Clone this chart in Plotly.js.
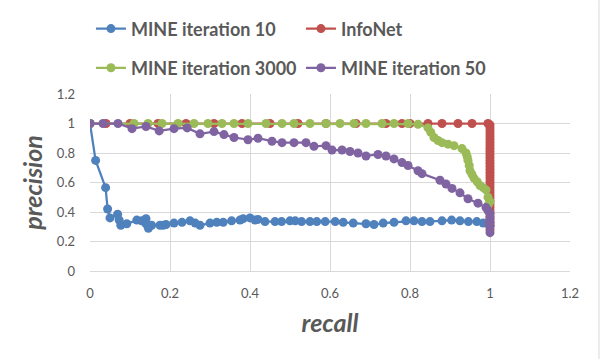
<!DOCTYPE html>
<html>
<head>
<meta charset="utf-8">
<script src="https://cdn.plot.ly/plotly-3.0.1.min.js"></script>
<style>
  body { margin: 0; background: #fff; }
  #chart { width: 600px; height: 359px; }
</style>
</head>
<body>
<div id="chart"></div>
<script>
// series names
const names = ["MINE iteration 10", "InfoNet", "MINE iteration 3000", "MINE iteration 50"];

// MINE iteration 10
const mine10X = [0, 0.014, 0.039, 0.044, 0.05, 0.069, 0.073, 0.077, 0.092, 0.117, 0.129, 0.14, 0.14, 0.146, 0.154,
  0.175, 0.183, 0.19, 0.21, 0.23, 0.25, 0.263, 0.275, 0.3, 0.317, 0.333, 0.354, 0.375, 0.383, 0.4, 0.4125, 0.42,
  0.4375, 0.4625, 0.479, 0.5, 0.513, 0.529, 0.55, 0.567, 0.588, 0.613, 0.633, 0.658, 0.69, 0.71, 0.733, 0.76,
  0.79, 0.81, 0.83, 0.85, 0.88, 0.904, 0.925, 0.946, 0.967, 0.983, 0.995, 1.0];
const mine10Y = [1, 0.75, 0.565, 0.42, 0.36, 0.385, 0.345, 0.31, 0.32, 0.345, 0.34, 0.355, 0.32, 0.29, 0.31,
  0.31, 0.31, 0.315, 0.325, 0.33, 0.34, 0.325, 0.31, 0.325, 0.33, 0.33, 0.34, 0.345, 0.355, 0.36, 0.345, 0.35,
  0.335, 0.335, 0.335, 0.34, 0.34, 0.335, 0.335, 0.335, 0.335, 0.335, 0.33, 0.325, 0.32, 0.315, 0.325, 0.33,
  0.34, 0.34, 0.335, 0.335, 0.34, 0.345, 0.34, 0.335, 0.335, 0.325, 0.32, 0.31];

// InfoNet
const infoX = [0, 0.04, 0.1, 0.17, 0.24, 0.31, 0.38, 0.45, 0.52, 0.59, 0.665, 0.74, 0.78, 0.8, 0.845, 0.88, 0.92, 0.955, 0.995,
  1, 1, 1, 1, 1, 1, 1, 1, 1, 1, 1, 1, 1, 1, 1, 1, 1, 1, 1, 1, 1, 1, 1, 1, 1, 1, 1, 1, 1, 1, 1, 1, 1, 1, 1, 1];
const infoY = [1, 1, 1, 1, 1, 1, 1, 1, 1, 1, 1, 1, 1, 1, 1, 1, 1, 1, 1,
  0.99, 0.97, 0.95, 0.93, 0.91, 0.89, 0.87, 0.85, 0.83, 0.81, 0.79, 0.77, 0.75, 0.73, 0.71, 0.69, 0.67, 0.65,
  0.63, 0.61, 0.59, 0.57, 0.55, 0.53, 0.51, 0.49, 0.47, 0.45, 0.43, 0.41, 0.39, 0.37, 0.35, 0.33, 0.31, 0.28];

// MINE iteration 3000
const mine3000X = [0, 0.11, 0.145, 0.18, 0.22, 0.26, 0.295, 0.33, 0.36, 0.395, 0.44, 0.48, 0.51, 0.55, 0.59, 0.625,
  0.66, 0.69, 0.73, 0.76, 0.795, 0.82, 0.845, 0.852, 0.86, 0.87, 0.88, 0.895, 0.91, 0.93, 0.94, 0.943, 0.945, 0.948,
  0.95, 0.955, 0.96, 0.968, 0.975, 0.983, 0.99, 0.995, 1.0, 0.995];
const mine3000Y = [1, 1, 1, 1, 1, 1, 1, 1, 1, 1, 1, 1, 1, 1, 1, 1,
  1, 1, 1, 1, 1, 0.995, 0.97, 0.94, 0.905, 0.885, 0.87, 0.86, 0.85, 0.83, 0.8, 0.775, 0.75, 0.715,
  0.68, 0.655, 0.63, 0.605, 0.58, 0.565, 0.55, 0.5, 0.47, 0.445];

// MINE iteration 50
const mine50X = [0, 0.0325, 0.07, 0.105, 0.14, 0.173, 0.21, 0.243, 0.275, 0.31, 0.335, 0.36, 0.395, 0.42, 0.455,
  0.48, 0.51, 0.54, 0.56, 0.59, 0.605, 0.63, 0.65, 0.67, 0.69, 0.72, 0.74, 0.76, 0.78, 0.795, 0.82, 0.83, 0.875,
  0.89, 0.905, 0.925, 0.945, 0.97, 0.99, 0.995, 1, 1, 1, 1, 1];
const mine50Y = [1, 1, 1, 0.965, 0.98, 0.95, 0.965, 0.97, 0.93, 0.945, 0.925, 0.905, 0.89, 0.9, 0.88,
  0.87, 0.87, 0.87, 0.845, 0.85, 0.82, 0.82, 0.81, 0.8, 0.78, 0.79, 0.78, 0.76, 0.735, 0.715, 0.68, 0.66, 0.615,
  0.59, 0.56, 0.53, 0.49, 0.46, 0.43, 0.41, 0.39, 0.36, 0.33, 0.3, 0.26];

const colors = ["#4f81bd", "#c0504d", "#9bbb59", "#8064a2"];
const xs = [mine10X, infoX, mine3000X, mine50X];
const ys = [mine10Y, infoY, mine3000Y, mine50Y];
const legendOf = ["legend", "legend", "legend2", "legend2"];

const traces = names.map((n, i) => ({
  x: xs[i],
  y: ys[i],
  name: n,
  type: "scatter",
  mode: "lines+markers",
  line: { color: colors[i], width: 2.25 },
  marker: { color: colors[i], size: 9 },
  legend: legendOf[i]
}));

const tickFont = { family: "Lato, 'Open Sans', sans-serif", size: 13, color: "#595959" };
const titleFont = { family: "Lato, 'Open Sans', sans-serif", size: 25, color: "#595959", weight: "bold", style: "italic" };
const legendFont = { family: "Lato, 'Open Sans', sans-serif", size: 18, color: "#595959", weight: "bold" };

const layout = {
  width: 600,
  height: 359,
  margin: { l: 90, r: 30, t: 93, b: 88 },
  paper_bgcolor: "#ffffff",
  plot_bgcolor: "#ffffff",
  showlegend: true,
  legend: {
    orientation: "h", x: 0.002, xanchor: "left", y: 1.36, yanchor: "middle",
    entrywidth: 165, entrywidthmode: "pixels", font: legendFont, traceorder: "normal",
    bgcolor: "rgba(0,0,0,0)"
  },
  legend2: {
    orientation: "h", x: 0.002, xanchor: "left", y: 1.14, yanchor: "middle",
    entrywidth: 165, entrywidthmode: "pixels", font: legendFont, traceorder: "normal",
    bgcolor: "rgba(0,0,0,0)"
  },
  xaxis: {
    range: [0, 1.2], dtick: 0.2, tick0: 0,
    showgrid: true, gridcolor: "#d9d9d9", gridwidth: 1,
    zeroline: false, showline: true, linecolor: "#d9d9d9",
    ticks: "", tickfont: tickFont, ticklabelstandoff: 10,
    title: { text: "recall", font: titleFont, standoff: 14 }
  },
  yaxis: {
    range: [0, 1.2], dtick: 0.2, tick0: 0,
    showgrid: true, gridcolor: "#d9d9d9", gridwidth: 1,
    zeroline: false, showline: false,
    ticks: "", tickfont: tickFont, ticklabelstandoff: 14,
    title: { text: "precision", font: titleFont, standoff: 7 }
  },
  shapes: [{
    type: "line", xref: "paper", yref: "paper",
    x0: 1.0604, x1: 1.0604, y0: -0.5, y1: 1.53,
    line: { color: "#d9d9d9", width: 1 }
  }]
};

Plotly.newPlot("chart", traces, layout, { displayModeBar: false, staticPlot: true });
</script>
</body>
</html>
